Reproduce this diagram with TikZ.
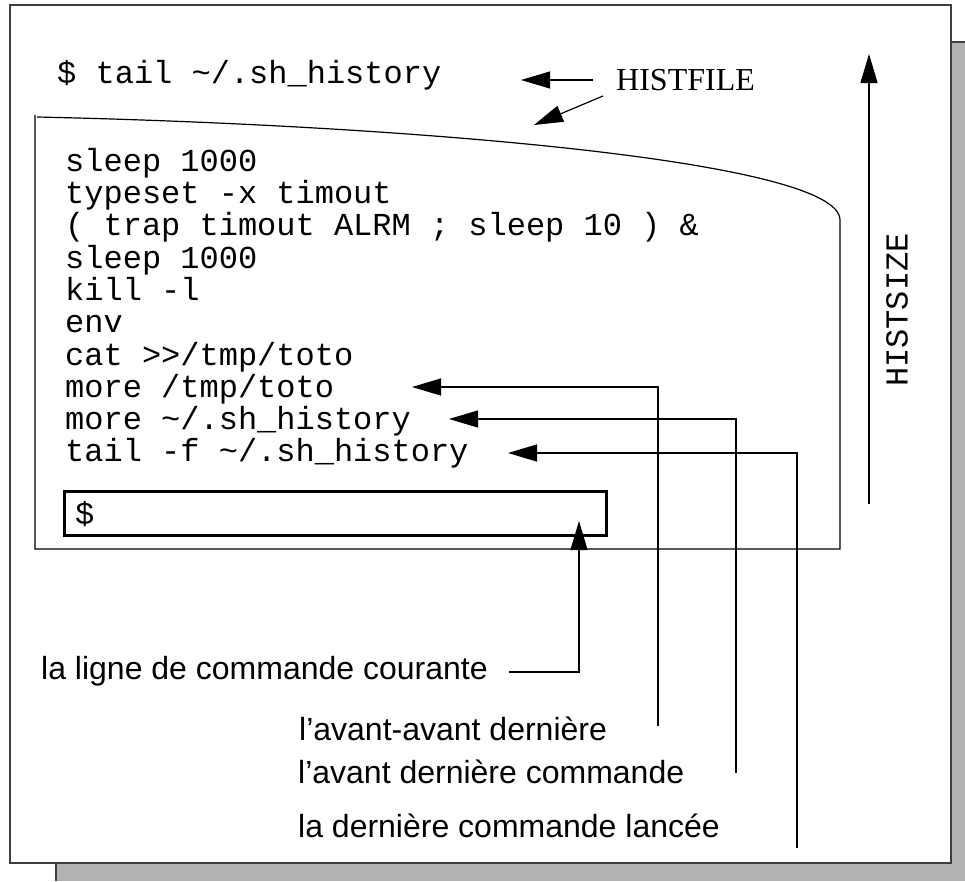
\documentclass[tikz,border=0pt]{standalone}
\usepackage{fontspec}
\setmainfont{Liberation Serif}
\setsansfont{Liberation Sans}
\setmonofont{Liberation Mono}
\usetikzlibrary{arrows.meta}
\definecolor{shadowgray}{HTML}{B3B3B3}

\begin{document}
\begin{tikzpicture}
[x=1pt,y=-1pt,
code/.style={anchor=base west,inner sep=0pt,font=\fontsize{32}{32}\selectfont\ttfamily},
legend/.style={anchor=base west,inner sep=0pt,font=\fontsize{32}{32}\selectfont\sffamily},
pointer/.style={-{Triangle[length=29pt,width=17pt]},line width=1.2pt},
wire/.style={line width=1.2pt}]
\useasboundingbox (0,0) rectangle (965,881);

% frame with its shadow
\fill[shadowgray] (56,42) rectangle (965,881);
\draw[black!75,line width=1.5pt] (56,881) -- (56,42) -- (965,42);
\draw[fill=white,draw=black!75,line width=2pt] (10,5) rectangle (951,863);

% the history window
\draw[wire] (37,117) .. controls (400,125) and (840,160) .. (840,220) -- (840,549) -- (35,549) -- (35,115);

\node[code] (cmd) at (57,83) {\$ tail \string~/.sh\_history};
\node[code] (h1) at (65,171) {sleep 1000};
\node[code] (h2) at (65,203.3) {typeset -x timout};
\node[code] (h3) at (65,235.6) {( trap timout ALRM ; sleep 10 ) \&};
\node[code] (h4) at (65,268) {sleep 1000};
\node[code] (h5) at (65,300) {kill -l};
\node[code] (h6) at (65,332.5) {env};
\node[code] (h7) at (65,365) {cat >>/tmp/toto};
\node[code] (h8) at (65,397) {more /tmp/toto};
\node[code] (h9) at (65,429) {more \string~/.sh\_history};
\node[code] (h10) at (65,461) {tail -f \string~/.sh\_history};

\node[draw,line width=2.5pt,anchor=north west,minimum width=542pt,minimum height=44pt,inner sep=0pt] (prompt) at (63,490) {};
\node[code] (dollar) at (75,524) {\$};

% labels
\node[anchor=base west,inner sep=0pt,font=\fontsize{32}{32}\selectfont] (histfile) at (616,90) {HISTFILE};
\node[code,anchor=center,rotate=90] (histsize) at (897,310) {HISTSIZE};
\node[legend] (courante) at (41,679) {la ligne de commande courante};
\node[legend] (avav) at (299,740) {l’avant-avant dernière};
\node[legend] (av) at (298,783) {l’avant dernière commande};
\node[legend] (last) at (298,837) {la dernière commande lancée};

% arrows
\coordinate (hf1) at (593,80);
\coordinate (hf1t) at (521,80);
\coordinate (hf2) at (603,96);
\coordinate (hf2t) at (534,125);
\coordinate (hs) at (869,504);
\coordinate (hst) at (869,54);
\coordinate (c1) at (509,672);
\coordinate (c2) at (579,672);
\coordinate (ct) at (579,521);
\coordinate (a1) at (658,726);
\coordinate (a2) at (658,387);
\coordinate (at) at (412,387);
\coordinate (b1) at (736,773);
\coordinate (b2) at (736,419);
\coordinate (bt) at (449,419);
\coordinate (d1) at (797,848);
\coordinate (d2) at (797,453);
\coordinate (dt) at (508,453);

\draw [pointer] (hf1) -- (hf1t);
\draw [pointer] (hf2) -- (hf2t);
\draw [pointer] (hs) -- (hst);
\draw [pointer] (c1) -- (c2) -- (ct);
\draw [pointer] (a1) -- (a2) -- (at);
\draw [pointer] (b1) -- (b2) -- (bt);
\draw [pointer] (d1) -- (d2) -- (dt);
\end{tikzpicture}
\end{document}
